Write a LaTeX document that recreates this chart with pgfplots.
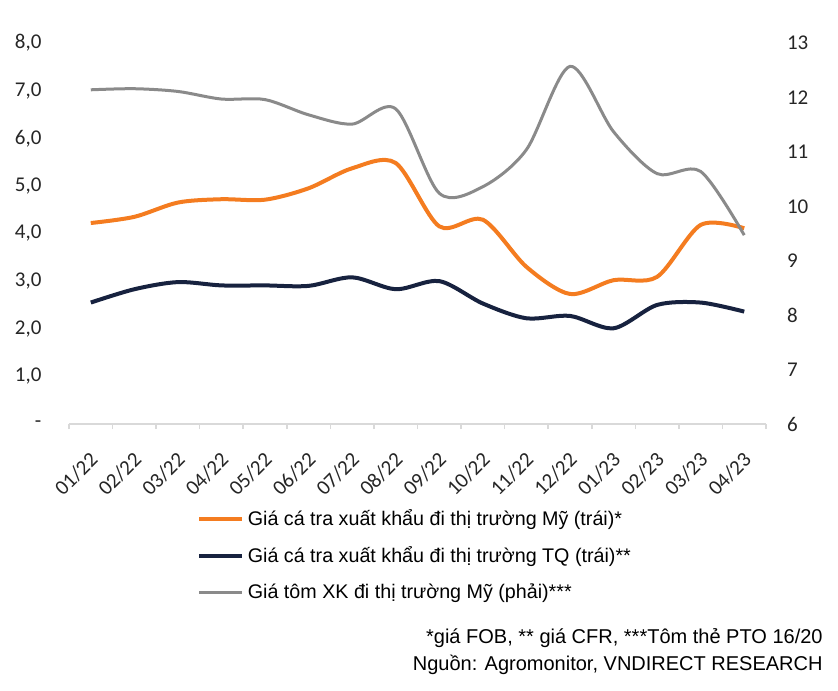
\documentclass[border=0pt]{standalone}
\usepackage{fontspec}
\setmainfont{Liberation Sans}
\newfontfamily\calibri{Carlito}
\usepackage{pgfplots}
\pgfplotsset{compat=1.18}
\definecolor{cOrange}{HTML}{F47C20}
\definecolor{cNavy}{HTML}{17223F}
\definecolor{cGray}{HTML}{8A8A8A}
\definecolor{cAxis}{HTML}{D9D9D9}
\definecolor{cText}{HTML}{262626}
\begin{document}
\begin{tikzpicture}
\useasboundingbox (-34.5pt,-133pt) rectangle (384.5pt,212pt);
\begin{axis}[
  at={(0pt,0pt)}, anchor=south west,
  scale only axis, width=348.5pt, height=190.5pt,
  xmin=-0.5, xmax=15.5, ymin=0, ymax=8,
  axis x line*=bottom, axis y line*=left,
  y axis line style={draw=none},
  x axis line style={draw=cAxis, line width=0.8pt, -},
  xtick={0,...,15},
  xticklabels={01/22,02/22,03/22,04/22,05/22,06/22,07/22,08/22,09/22,10/22,11/22,12/22,01/23,02/23,03/23,04/23},
  major x tick style={draw=none},
  minor xtick={-0.5,0.5,...,15.5},
  minor x tick style={draw=cAxis, line width=0.8pt},
  minor tick length=2.5pt, tick align=outside,
  ytick={0,...,8},
  yticklabels={-\hspace{6pt},{1,0},{2,0},{3,0},{4,0},{5,0},{6,0},{7,0},{8,0}},
  ytick style={draw=none},
  ticklabel style={font=\calibri\fontsize{10.5}{12}\selectfont, text=cText},
  yticklabel style={xshift=-6pt},
  xticklabel style={rotate=45, anchor=north east, inner sep=0pt, yshift=-5.5pt, xshift=-7pt},
  clip=false,
  legend style={at={(0.184,-0.213)}, anchor=north west, draw=none, fill=none,
    font=\fontsize{9.85}{12}\selectfont, text=black, row sep=5pt, inner sep=0pt,
    cells={anchor=west}},
  legend cell align=left,
  legend image code/.code={\draw[#1, line width=1.6pt] (0pt,0pt) -- (21.5pt,0pt);},
]
\addplot[cOrange, line width=2pt, smooth, tension=0.5] coordinates {
(0,4.22) (1,4.35) (2,4.65) (3,4.72) (4,4.71) (5,4.95) (6,5.37) (7,5.48)
(8,4.15) (9,4.29) (10,3.30) (11,2.73) (12,3.02) (13,3.09) (14,4.18) (15,4.11)};
\addlegendentry{Giá cá tra xuất khẩu đi thị trường Mỹ (trái)*}
\addplot[cNavy, line width=2pt, smooth, tension=0.5] coordinates {
(0,2.55) (1,2.83) (2,2.98) (3,2.91) (4,2.91) (5,2.90) (6,3.08) (7,2.83)
(8,3.00) (9,2.53) (10,2.22) (11,2.27) (12,2.01) (13,2.50) (14,2.55) (15,2.36)};
\addlegendentry{Giá cá tra xuất khẩu đi thị trường TQ (trái)**}
\addlegendimage{cGray, line width=1.5pt}
\addlegendentry{Giá tôm XK đi thị trường Mỹ (phải)***}
\end{axis}
\begin{axis}[
  at={(0pt,0pt)}, anchor=south west,
  scale only axis, width=348.5pt, height=190.5pt,
  xmin=-0.5, xmax=15.5, ymin=6, ymax=13,
  axis x line=none, axis y line*=right,
  y axis line style={draw=none},
  ytick={6,...,13},
  yticklabels={6,7,8,9,10,11,12,13},
  ytick style={draw=none},
  yticklabel style={font=\calibri\fontsize{10.5}{12}\selectfont, text=cText, xshift=7pt},
  clip=false,
]
\addplot[cGray, line width=1.5pt, smooth, tension=0.5] coordinates {
(0,12.14) (1,12.16) (2,12.11) (3,11.97) (4,11.96) (5,11.68) (6,11.51) (7,11.79)
(8,10.24) (9,10.36) (10,11.04) (11,12.57) (12,11.37) (13,10.60) (14,10.64) (15,9.47)};
\end{axis}
\node[anchor=east, font=\fontsize{10}{12}\selectfont, inner sep=0pt] at (377pt,-107pt) {*giá FOB, ** giá CFR, ***Tôm thẻ PTO 16/20};
\node[anchor=east, font=\fontsize{10}{12}\selectfont, inner sep=0pt] at (377pt,-120.5pt) {Nguồn: Agromonitor, VNDIRECT RESEARCH};
\end{tikzpicture}
\end{document}
